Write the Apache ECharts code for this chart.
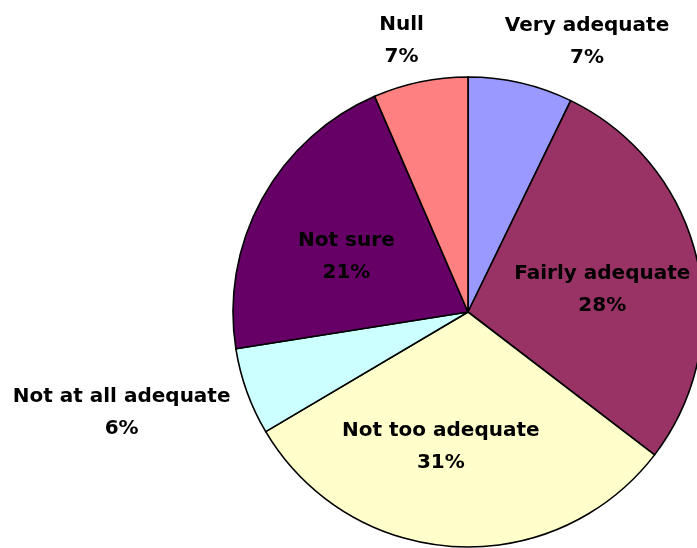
<!DOCTYPE html>
<html>
<head>
<meta charset="utf-8">
<script src="https://cdn.jsdelivr.net/npm/echarts@6/dist/echarts.min.js"></script>
<style>
html,body{margin:0;padding:0;background:#fff;}
#chart{width:697px;height:548px;}
</style>
</head>
<body>
<div id="chart"></div>
<script>
// Data (clockwise from 12 o'clock)
var categories = ['Very adequate', 'Fairly adequate', 'Not too adequate', 'Not at all adequate', 'Not sure', 'Null'];
var values = [7.2, 28.2, 31.1, 6.0, 21.0, 6.5];

// Styles
var colors = ['#9999FF', '#993366', '#FFFFCC', '#CCFFFF', '#660066', '#FF8080'];
// label offsets from the slice's inside anchor
var labelOffsets = [[92, -153], [17, 6], [-20, 15], [-233, 60], [-16, 3], [-42, -153]];

var chart = echarts.init(document.getElementById('chart'), null, {renderer: 'canvas'});
var data = categories.map(function (c, i) {
  return {name: c, value: values[i], itemStyle: {color: colors[i]}};
});
chart.setOption({
  backgroundColor: '#ffffff',
  animation: false,
  series: [{
    type: 'pie',
    center: [468, 312],
    radius: [0, 235],
    startAngle: 90,
    clockwise: true,
    avoidLabelOverlap: false,
    itemStyle: {borderColor: '#000000', borderWidth: 1.6},
    emphasis: {disabled: true},
    label: {
      show: true,
      position: 'inside',
      color: '#000000',
      fontFamily: 'DejaVu Sans',
      fontWeight: 'bold',
      fontSize: 20,
      lineHeight: 32,
      align: 'center',
      formatter: function (p) { return p.name + '\n' + Math.round(p.percent) + '%'; }
    },
    labelLine: {show: false},
    labelLayout: function (p) {
      var o = labelOffsets[p.dataIndex];
      return {dx: o[0], dy: o[1]};
    },
    data: data
  }]
});
</script>
</body>
</html>
